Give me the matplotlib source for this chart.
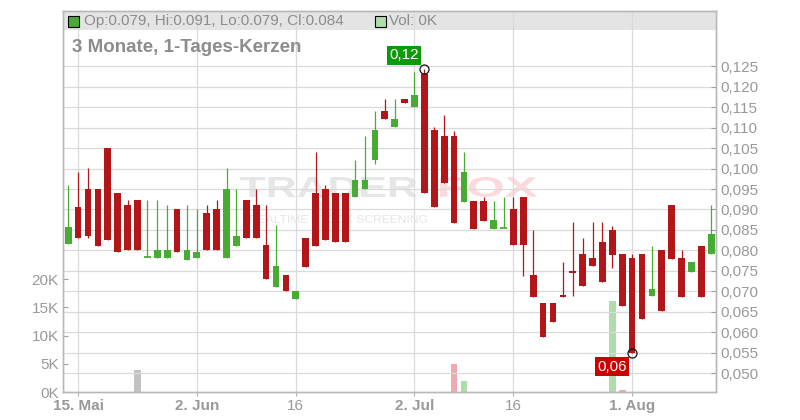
import matplotlib
matplotlib.use("Agg")
import matplotlib.pyplot as plt
from matplotlib.patches import Rectangle, PathPatch
from matplotlib.textpath import TextPath
from matplotlib.font_manager import FontProperties
from matplotlib.transforms import Affine2D
import numpy as np
import pandas as pd

plt.rcParams["font.family"] = ["Liberation Sans", "DejaVu Sans"]

# daily candles, 14 May - 13 Aug 2025 (trading days)
dates = pd.bdate_range("2025-05-14", "2025-08-13")

opens = [
    0.0815, 0.0907, 0.0951, 0.0951, 0.1050, 0.0941, 0.0912, 0.0922, 0.0783, 0.0781,
    0.0781, 0.0902, 0.0776, 0.0781, 0.0892, 0.0902, 0.0781, 0.0810, 0.0922, 0.0912,
    0.0812, 0.0710, 0.0741, 0.0681, 0.0831, 0.0941, 0.0951, 0.0941, 0.0941, 0.0930,
    0.0950, 0.1020, 0.1141, 0.1101, 0.1170, 0.1150, 0.1232, 0.1093, 0.1080, 0.1079,
    0.0919, 0.0920, 0.0920, 0.0853, 0.0854, 0.0901, 0.0930, 0.0740, 0.0672, 0.0672,
    0.0691, 0.0750, 0.0791, 0.0781, 0.0820, 0.0850, 0.0791, 0.0781, 0.0791, 0.0689,
    0.0801, 0.0911, 0.0781, 0.0748, 0.0811, 0.0790,
]
highs = [
    0.0961, 0.0992, 0.1002, 0.0951, 0.1050, 0.0941, 0.0922, 0.0922, 0.0922, 0.0922,
    0.0912, 0.0902, 0.0912, 0.0902, 0.0912, 0.0922, 0.1002, 0.0951, 0.0922, 0.0951,
    0.0912, 0.0861, 0.0741, 0.0702, 0.0831, 0.1041, 0.0961, 0.0941, 0.0941, 0.1022,
    0.1080, 0.1141, 0.1170, 0.1170, 0.1170, 0.1235, 0.1243, 0.1102, 0.1131, 0.1092,
    0.1040, 0.0920, 0.0930, 0.0920, 0.0930, 0.0930, 0.0930, 0.0850, 0.0672, 0.0672,
    0.0772, 0.0869, 0.0830, 0.0869, 0.0869, 0.0859, 0.0791, 0.0791, 0.0791, 0.0811,
    0.0801, 0.0911, 0.0801, 0.0772, 0.0811, 0.0910,
]
lows = [
    0.0815, 0.0830, 0.0830, 0.0810, 0.0825, 0.0795, 0.0800, 0.0800, 0.0783, 0.0781,
    0.0781, 0.0795, 0.0776, 0.0781, 0.0800, 0.0800, 0.0781, 0.0810, 0.0830, 0.0830,
    0.0730, 0.0710, 0.0700, 0.0681, 0.0759, 0.0810, 0.0825, 0.0821, 0.0821, 0.0930,
    0.0950, 0.1011, 0.1120, 0.1101, 0.1159, 0.1150, 0.0940, 0.0906, 0.0964, 0.0867,
    0.0919, 0.0853, 0.0872, 0.0853, 0.0854, 0.0814, 0.0738, 0.0685, 0.0589, 0.0624,
    0.0685, 0.0689, 0.0714, 0.0763, 0.0724, 0.0758, 0.0665, 0.0550, 0.0633, 0.0689,
    0.0653, 0.0780, 0.0685, 0.0748, 0.0685, 0.0790,
]
closes = [
    0.0856, 0.0830, 0.0835, 0.0810, 0.0825, 0.0795, 0.0800, 0.0800, 0.0783, 0.0802,
    0.0802, 0.0795, 0.0802, 0.0797, 0.0800, 0.0800, 0.0951, 0.0836, 0.0830, 0.0830,
    0.0730, 0.0761, 0.0700, 0.0702, 0.0759, 0.0810, 0.0825, 0.0821, 0.0821, 0.0971,
    0.0971, 0.1093, 0.1120, 0.1122, 0.1159, 0.1180, 0.0940, 0.0906, 0.0964, 0.0867,
    0.0991, 0.0853, 0.0872, 0.0874, 0.0854, 0.0814, 0.0814, 0.0685, 0.0589, 0.0624,
    0.0685, 0.0744, 0.0714, 0.0763, 0.0724, 0.0789, 0.0665, 0.0550, 0.0633, 0.0706,
    0.0653, 0.0780, 0.0685, 0.0772, 0.0685, 0.0840,
]
volumes = [
    0, 0, 0, 0, 0, 0, 0, 3900, 0, 0,
    0, 0, 0, 0, 0, 0, 0, 0, 0, 0,
    0, 0, 0, 0, 0, 0, 0, 0, 0, 0,
    0, 0, 0, 0, 0, 0, 0, 0, 0, 5000,
    1900, 0, 0, 0, 0, 0, 0, 0, 0, 0,
    0, 0, 0, 0, 0, 16100, 400, 0, 0, 0,
    0, 0, 0, 0, 0, 0,
]

price_ticks = [0.050, 0.055, 0.060, 0.065, 0.070, 0.075, 0.080, 0.085,
               0.090, 0.095, 0.100, 0.105, 0.110, 0.115, 0.120, 0.125]
volume_ticks = [0, 5000, 10000, 15000, 20000]
volume_labels = ["0K", "5K", "10K", "15K", "20K"]
date_ticks = ["2025-05-15", "2025-06-02", "2025-06-16", "2025-07-02", "2025-07-16", "2025-08-01"]
date_labels = ["15. Mai", "2. Jun", "16", "2. Jul", "16", "1. Aug"]
month_start = [True, True, False, True, False, True]

GREEN = "#48ab34"
RED = "#b21619"
GRID = "#dadada"
TXT = "#999999"


def stretched_text(ax, s, left, top, width, height, color, bold=True):
    """Draw text as a path squeezed into a pixel box (left/top from upper-left corner)."""
    fp = FontProperties(family="Liberation Sans", weight="bold" if bold else "normal")
    tp = TextPath((0, 0), s, size=1, prop=fp)
    ext = tp.get_extents()
    tr = (Affine2D().translate(-ext.x0, -ext.y0)
          .scale(width / ext.width, height / ext.height)
          .translate(left, 420 - top - height))
    ax.add_artist(PathPatch(tp, transform=tr, facecolor=color, edgecolor="none", zorder=0.3))


o, h, l, c = (np.array(v) for v in (opens, highs, lows, closes))
vol = np.array(volumes)
x = np.arange(len(dates))

fig = plt.figure(figsize=(8, 4.2), dpi=100)
axv = fig.add_axes([63 / 800, 28 / 420, 653 / 800, 381 / 420])
ax = axv.twinx()

# header band
axv.add_patch(Rectangle((0, 0.9501), 1, 0.0499, transform=axv.transAxes,
                        facecolor="#e4e4e4", edgecolor="none", zorder=0.2))

# watermark
stretched_text(axv, "TRADER", 240, 177, 177, 20, "#e6e6e6")
stretched_text(axv, "FOX", 440, 177, 97, 20, "#fcd9dc")
stretched_text(axv, "REALTIME STOCK SCREENING", 250, 215, 177, 8, "#e6e6e6", bold=False)

# volume bars, coloured by close-to-close change
diff = np.diff(c, prepend=c[0])
vcol = np.where(diff > 0, "#aedcaa", np.where(diff < 0, "#f1a9b0", "#c2c2c2"))
axv.bar(x, vol, width=0.68, color=vcol, zorder=1)
axv.set_ylim(0, 67550)
axv.set_yticks(volume_ticks)
axv.set_yticklabels(volume_labels)

# candles
up = c >= o
col = np.where(up, GREEN, RED)
ax.vlines(x, l, h, colors=col, lw=0.9, zorder=2)
body_lo = np.minimum(o, c)
body_h = np.abs(c - o)
ax.bar(x, body_h, bottom=body_lo, width=0.68, color=col, zorder=3)
flat = body_h == 0
ax.hlines(o[flat], x[flat] - 0.34, x[flat] + 0.34, colors=col[flat], lw=1.3, zorder=3)

ax.set_ylim(0.0454, 0.1385)
ax.set_yticks(price_ticks)
ax.set_yticklabels([f"{p:.3f}".replace(".", ",") for p in price_ticks])
ax.set_xlim(-0.53, 65.48)

# high / low markers
ih = int(np.argmax(h))
il = int(np.argmin(l))
ax.plot([x[ih], x[il]], [h[ih], l[il]], "o", ms=6.5, mfc="none", mec="#111111", mew=0.9, zorder=5)
ax.annotate(f"{h[ih]:.2f}".replace(".", ","), xy=(x[ih], h[ih]), xytext=(-14.5, 10),
            textcoords="offset points", ha="center", va="center", color="white", fontsize=11,
            bbox=dict(boxstyle="square,pad=0.15", fc="#0a9a0a", ec="none"), zorder=6)
ax.annotate(f"{l[il] + 1e-9:.2f}".replace(".", ","), xy=(x[il], l[il]), xytext=(-14.5, -10),
            textcoords="offset points", ha="center", va="center", color="white", fontsize=11,
            bbox=dict(boxstyle="square,pad=0.15", fc="#cc0000", ec="none"), zorder=6)

# grid and axes styling
tick_pos = [dates.get_loc(pd.Timestamp(d)) for d in date_ticks]
axv.set_xticks(tick_pos)
axv.set_xticklabels(date_labels)
for lab, bold in zip(axv.get_xticklabels(), month_start):
    lab.set_fontweight("bold" if bold else "normal")
axv.set_axisbelow(True)
ax.set_axisbelow(True)
axv.grid(axis="x", color=GRID, lw=0.9)
ax.grid(axis="y", color=GRID, lw=0.9)

axv.tick_params(axis="x", direction="out", length=3, width=0.8, color="#b4b4b4",
                labelsize=11, labelcolor=TXT, pad=2)
axv.tick_params(axis="y", direction="in", length=3.5, width=0.8, color="#a0a0a0",
                labelsize=11, labelcolor=TXT, pad=3)
ax.tick_params(axis="y", direction="in", length=3.5, width=0.8, color="#a0a0a0",
               labelsize=11, labelcolor=TXT, pad=3)
for a in (ax, axv):
    for s in a.spines.values():
        s.set_color("#b8b8b8")
        s.set_linewidth(1)

# header texts
fig.add_artist(Rectangle((68 / 800, 1 - 27 / 420), 11 / 800, 11 / 420, transform=fig.transFigure,
                         facecolor=GREEN, edgecolor="black", lw=0.8))
fig.text(84 / 800, 1 - 21 / 420,
         f"Op:{o[-1]:.3f}, Hi:{h[-1]:.3f}, Lo:{l[-1]:.3f}, Cl:{c[-1]:.3f}",
         fontsize=11, color="#8c8c8c", va="center")
fig.add_artist(Rectangle((375 / 800, 1 - 27 / 420), 11 / 800, 11 / 420, transform=fig.transFigure,
                         facecolor="#aedcaa", edgecolor="black", lw=0.8))
fig.text(389 / 800, 1 - 21 / 420, "Vol: 0K", fontsize=11, color="#8c8c8c", va="center")
fig.text(72 / 800, 1 - 48 / 420, "3 Monate, 1-Tages-Kerzen", fontsize=13.5,
         fontweight="bold", color="#8c8c8c", va="center")

fig.savefig("out.png", dpi=100)
